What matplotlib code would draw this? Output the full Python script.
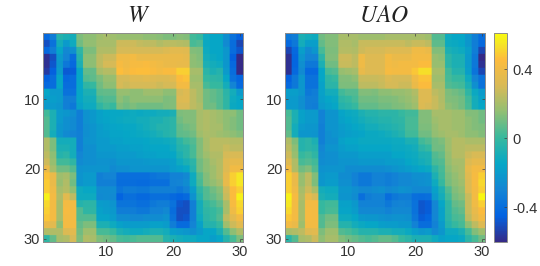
import numpy as np
import matplotlib
matplotlib.use("Agg")
import matplotlib.pyplot as plt
from matplotlib.colors import LinearSegmentedColormap

W_ROWS = [
[-.42,-.33,-.05,-.08,-.1,.12,.15,.15,.18,.2,.18,.17,.17,.17,.17,.15,.15,.14,.12,.12,.14,.13,.02,0,-.12,-.15,-.15,-.25,-.38,-.45],
[-.5,-.38,-.1,-.2,-.12,.1,.16,.16,.2,.2,.2,.28,.28,.28,.26,.25,.25,.22,.24,.24,.23,.22,.03,.05,-.13,-.15,-.15,-.27,-.4,-.52],
[-.42,-.33,-.15,-.28,-.25,-.02,.12,.12,.22,.22,.22,.3,.3,.3,.3,.3,.3,.3,.32,.35,.35,.34,.13,.12,-.12,-.15,-.15,-.22,-.4,-.48],
[-.58,-.5,-.2,-.3,-.4,-.05,.15,.15,.25,.28,.28,.4,.4,.42,.38,.38,.38,.38,.38,.38,.38,.36,.15,.13,-.1,-.13,-.15,-.22,-.45,-.6],
[-.58,-.48,-.22,-.35,-.42,-.08,.15,.15,.25,.3,.3,.43,.4,.43,.43,.44,.42,.4,.38,.38,.37,.37,.15,.14,-.08,-.1,-.12,-.22,-.42,-.6],
[-.55,-.45,-.2,-.47,-.46,-.15,.08,.08,.2,.23,.23,.46,.42,.45,.46,.46,.44,.42,.44,.44,.5,.5,.2,.2,-.03,-.08,-.05,-.2,-.4,-.6],
[-.45,-.4,-.15,-.42,-.4,-.15,.05,.07,.12,.17,.17,.3,.3,.33,.33,.35,.33,.32,.32,.35,.45,.47,.18,.18,0,-.02,-.03,-.15,-.38,-.43],
[-.42,-.4,-.15,-.4,-.4,-.15,-.02,0,.1,.15,.15,.3,.28,.3,.3,.3,.3,.28,.3,.3,.42,.42,.2,.2,.03,0,0,-.1,-.3,-.42],
[-.15,-.2,-.2,-.38,-.38,-.15,-.08,-.08,.07,.08,.08,.17,.17,.15,.15,.18,.18,.18,.15,.15,.3,.33,.25,.2,.1,.08,.05,-.03,-.1,-.2],
[-.18,-.18,-.2,-.32,-.32,-.15,-.1,-.1,.03,.05,.05,.15,.12,.15,.15,.15,.15,.15,.12,.13,.32,.33,.25,.2,.1,.08,.05,-.02,-.12,-.15],
[-.2,-.2,-.22,-.32,-.35,-.17,-.12,-.12,-.02,.02,0,.12,.1,.12,.1,.1,.1,.1,.12,.13,.3,.3,.25,.22,.1,.1,.05,-.02,-.13,-.15],
[.02,-.08,-.2,-.22,-.25,-.33,-.24,-.21,-.17,-.15,-.14,-.14,-.13,-.12,-.13,-.12,-.12,-.1,-.1,-.08,.12,.13,.13,.2,.22,.2,.18,.15,.15,.1],
[.05,-.08,-.2,-.25,-.27,-.33,-.24,-.21,-.17,-.16,-.14,-.13,-.12,-.12,-.1,-.1,-.08,-.08,-.05,-.03,.1,.13,.13,.2,.22,.2,.18,.15,.13,.1],
[.05,-.08,-.22,-.25,-.27,-.33,-.25,-.23,-.19,-.17,-.16,-.15,-.14,-.14,-.12,-.1,-.08,-.05,-.05,-.03,.08,.1,.12,.2,.22,.2,.2,.15,.13,.1],
[.05,-.1,-.22,-.27,-.3,-.32,-.25,-.23,-.19,-.18,-.16,-.16,-.15,-.14,-.13,-.12,-.1,-.08,-.05,-.03,.07,.08,.1,.18,.21,.2,.18,.17,.15,.13],
[.22,.12,-.1,-.1,-.1,-.32,-.24,-.23,-.2,-.2,-.17,-.17,-.16,-.16,-.16,-.15,-.13,-.13,-.12,-.1,-.03,.02,.05,.13,.2,.24,.24,.24,.23,.23],
[.22,.12,-.08,-.08,-.1,-.32,-.25,-.25,-.2,-.2,-.2,-.18,-.18,-.17,-.17,-.16,-.15,-.15,-.15,-.12,-.05,-.03,.03,.13,.2,.24,.24,.27,.25,.25],
[.25,.15,-.05,-.03,-.1,-.29,-.25,-.25,-.22,-.22,-.22,-.2,-.2,-.2,-.18,-.17,-.17,-.16,-.16,-.15,-.08,-.03,.03,.13,.18,.22,.22,.3,.31,.31],
[.28,.17,.02,.02,-.02,-.27,-.25,-.25,-.24,-.24,-.25,-.22,-.22,-.22,-.22,-.21,-.2,-.2,-.2,-.18,-.12,-.08,-.03,.1,.15,.2,.23,.33,.36,.36],
[.38,.2,.1,.1,.05,-.24,-.23,-.23,-.23,-.23,-.27,-.25,-.25,-.23,-.23,-.23,-.23,-.23,-.23,-.19,-.17,-.14,-.05,.1,.15,.18,.23,.33,.41,.41],
[.47,.38,.18,.2,.12,-.23,-.2,-.2,-.32,-.3,-.3,-.39,-.39,-.39,-.39,-.39,-.37,-.35,-.35,-.31,-.31,-.28,-.12,.05,.13,.18,.23,.36,.5,.55],
[.49,.38,.17,.22,.1,-.23,-.2,-.2,-.32,-.32,-.32,-.4,-.4,-.4,-.41,-.41,-.39,-.39,-.39,-.31,-.3,-.26,-.12,.03,.13,.16,.2,.37,.5,.55],
[.49,.4,.2,.23,.15,-.12,-.14,-.14,-.26,-.26,-.26,-.37,-.34,-.34,-.35,-.35,-.32,-.32,-.32,-.32,-.35,-.31,-.19,-.02,.05,.1,.14,.29,.45,.5],
[.58,.42,.22,.35,.25,-.12,-.12,-.12,-.27,-.26,-.27,-.44,-.39,-.39,-.42,-.42,-.39,-.39,-.39,-.42,-.44,-.42,-.24,-.05,.05,.08,.12,.27,.45,.58],
[.52,.42,.2,.42,.42,-.05,-.03,-.03,-.19,-.2,-.23,-.37,-.37,-.37,-.39,-.39,-.35,-.33,-.33,-.38,-.48,-.5,-.32,-.1,0,.03,.08,.2,.43,.52],
[.5,.42,.2,.43,.42,.05,-.02,-.02,-.17,-.19,-.21,-.33,-.33,-.33,-.35,-.35,-.31,-.31,-.28,-.4,-.5,-.5,-.32,-.1,-.02,0,.03,.2,.4,.5],
[.48,.42,.2,.42,.42,.05,.05,.05,-.16,-.16,-.19,-.26,-.26,-.28,-.28,-.26,-.26,-.26,-.24,-.38,-.5,-.48,-.32,-.12,-.03,0,.05,.25,.35,.42],
[.38,.35,.15,.42,.42,.08,.12,.12,-.08,-.08,-.12,-.17,-.19,-.19,-.19,-.19,-.17,-.17,-.19,-.33,-.41,-.41,-.3,-.17,-.05,-.05,0,.18,.28,.35],
[.22,.22,.22,.32,.35,.1,.18,.18,.03,.03,0,-.08,-.1,-.12,-.12,-.1,-.08,-.08,-.1,-.18,-.2,-.22,-.25,-.2,-.15,-.15,-.08,.05,.15,.22],
[-.02,.08,.2,.22,.3,.12,.22,.2,.12,.1,.08,.03,.02,.03,.05,.05,.05,.05,-.05,-.08,-.1,-.12,-.12,-.15,-.15,-.18,-.15,-.05,.03,.12],
]

UAO_ROWS = [
[-.35,-.33,-.08,-.1,-.12,.1,.13,.13,.2,.2,.2,.18,.18,.18,.18,.2,.2,.2,.2,.2,.2,.18,.05,.05,-.12,-.15,-.15,-.22,-.32,-.4],
[-.42,-.35,-.1,-.18,-.18,.08,.13,.13,.22,.22,.2,.27,.27,.27,.27,.27,.27,.27,.25,.27,.27,.25,.07,.07,-.12,-.13,-.15,-.22,-.33,-.42],
[-.52,-.42,-.18,-.27,-.22,.03,.12,.12,.23,.23,.22,.28,.3,.3,.3,.33,.33,.33,.33,.4,.4,.38,.13,.13,-.08,-.1,-.12,-.18,-.33,-.52],
[-.58,-.43,-.22,-.3,-.3,-.03,.13,.13,.28,.28,.25,.4,.33,.33,.33,.42,.38,.38,.38,.42,.42,.42,.17,.15,-.03,-.08,-.08,-.2,-.35,-.6],
[-.58,-.43,-.25,-.35,-.35,-.08,.1,.1,.27,.27,.25,.4,.33,.33,.33,.42,.4,.42,.42,.42,.45,.45,.17,.17,-.03,-.08,-.08,-.2,-.35,-.58],
[-.58,-.42,-.27,-.42,-.42,-.15,.03,.05,.17,.18,.2,.37,.33,.33,.33,.43,.42,.42,.42,.48,.53,.53,.2,.2,.02,-.05,-.05,-.18,-.37,-.52],
[-.45,-.35,-.22,-.38,-.38,-.15,-.02,0,.13,.13,.15,.27,.27,.27,.28,.32,.3,.3,.3,.4,.47,.47,.18,.18,.03,0,0,-.12,-.3,-.38],
[-.42,-.35,-.22,-.38,-.38,-.17,-.03,-.03,.12,.12,.12,.25,.25,.25,.27,.3,.3,.28,.28,.38,.45,.45,.2,.2,.05,.03,.02,-.08,-.25,-.38],
[-.18,-.18,-.22,-.35,-.33,-.17,-.1,-.1,.02,.05,.05,.13,.13,.12,.15,.15,.17,.17,.18,.22,.33,.33,.25,.22,.12,.1,.08,-.02,-.13,-.2],
[-.2,-.2,-.25,-.32,-.32,-.18,-.15,-.13,-.02,0,.03,.1,.1,.1,.12,.12,.13,.15,.17,.2,.33,.33,.27,.22,.13,.12,.1,.02,-.1,-.17],
[-.2,-.2,-.25,-.32,-.33,-.2,-.17,-.15,-.05,-.03,0,.08,.08,.08,.1,.1,.12,.13,.15,.18,.32,.3,.27,.23,.15,.13,.1,.03,-.1,-.15],
[.03,-.08,-.17,-.2,-.2,-.31,-.23,-.23,-.16,-.13,-.12,-.08,-.05,-.05,-.03,-.03,-.03,0,.02,.02,.13,.13,.2,.2,.2,.18,.18,.13,.13,.1],
[.05,-.08,-.17,-.2,-.2,-.31,-.23,-.23,-.17,-.15,-.13,-.1,-.08,-.07,-.05,-.05,-.03,-.02,.03,.03,.13,.13,.18,.2,.2,.18,.18,.15,.13,.1],
[.05,-.1,-.2,-.22,-.22,-.32,-.23,-.23,-.19,-.17,-.15,-.13,-.1,-.1,-.08,-.07,-.05,-.03,.03,.03,.12,.12,.17,.2,.2,.18,.18,.15,.13,.12],
[.08,-.1,-.22,-.22,-.23,-.32,-.25,-.23,-.2,-.18,-.17,-.16,-.13,-.13,-.12,-.1,-.08,-.05,.02,.02,.1,.1,.16,.18,.2,.2,.18,.15,.15,.13],
[.22,.12,-.05,-.03,-.08,-.32,-.25,-.25,-.17,-.15,-.15,-.13,-.13,-.13,-.13,-.13,-.12,-.12,-.08,-.08,.02,.05,.1,.12,.18,.23,.23,.21,.21,.21],
[.25,.15,-.05,-.03,-.05,-.29,-.23,-.23,-.19,-.17,-.17,-.15,-.15,-.15,-.15,-.15,-.13,-.13,-.12,-.1,-.03,0,.1,.1,.18,.23,.23,.25,.25,.25],
[.28,.17,0,.02,-.02,-.27,-.25,-.25,-.21,-.21,-.21,-.18,-.18,-.18,-.18,-.18,-.15,-.15,-.13,-.12,-.08,-.07,.05,.08,.17,.23,.23,.28,.31,.31],
[.33,.22,.03,.05,.02,-.26,-.25,-.25,-.23,-.23,-.23,-.21,-.21,-.21,-.21,-.19,-.19,-.18,-.15,-.13,-.1,-.08,.03,.05,.16,.2,.2,.32,.36,.36],
[.42,.22,.1,.13,.05,-.24,-.23,-.23,-.23,-.26,-.26,-.26,-.26,-.26,-.26,-.25,-.23,-.21,-.19,-.17,-.15,-.13,-.03,.03,.14,.18,.2,.36,.42,.42],
[.5,.38,.17,.25,.13,-.22,-.2,-.2,-.26,-.26,-.31,-.35,-.35,-.31,-.31,-.33,-.31,-.28,-.28,-.25,-.25,-.24,-.08,.02,.12,.16,.2,.34,.43,.5],
[.5,.38,.17,.25,.12,-.22,-.19,-.19,-.25,-.25,-.31,-.35,-.35,-.31,-.31,-.33,-.31,-.28,-.28,-.26,-.25,-.24,-.12,0,.11,.15,.18,.32,.43,.52],
[.5,.4,.2,.28,.2,-.1,-.12,-.12,-.22,-.22,-.25,-.28,-.28,-.26,-.25,-.28,-.26,-.24,-.25,-.28,-.28,-.28,-.17,-.08,.05,.13,.16,.32,.42,.5],
[.58,.43,.22,.37,.3,-.08,-.1,-.1,-.23,-.23,-.26,-.39,-.33,-.31,-.31,-.4,-.35,-.33,-.33,-.39,-.4,-.39,-.2,-.1,.02,.11,.14,.27,.42,.6],
[.55,.42,.2,.42,.42,0,.02,.02,-.17,-.17,-.21,-.31,-.31,-.31,-.31,-.35,-.31,-.3,-.31,-.38,-.48,-.46,-.29,-.15,-.02,.08,.1,.27,.4,.5],
[.52,.42,.2,.43,.42,0,.03,.03,-.16,-.16,-.19,-.28,-.28,-.28,-.28,-.31,-.28,-.28,-.28,-.38,-.48,-.46,-.29,-.17,-.02,.05,.08,.27,.37,.45],
[.48,.42,.2,.43,.42,.05,.1,.1,-.12,-.12,-.15,-.21,-.22,-.22,-.24,-.25,-.24,-.24,-.25,-.36,-.46,-.43,-.29,-.17,-.03,.03,.05,.25,.35,.42],
[.42,.38,.18,.42,.42,.05,.12,.12,-.05,-.05,-.1,-.13,-.15,-.15,-.18,-.19,-.19,-.21,-.21,-.31,-.4,-.4,-.31,-.2,-.05,0,.03,.15,.25,.33],
[.2,.22,.25,.33,.35,.12,.18,.18,.05,.03,0,-.05,-.05,-.05,-.08,-.08,-.1,-.1,-.13,-.18,-.22,-.2,-.27,-.22,-.12,-.12,-.08,.03,.13,.18],
[-.03,.05,.2,.22,.28,.15,.2,.2,.13,.1,.08,.05,.03,.05,.08,.08,.05,0,-.03,-.08,-.08,-.08,-.12,-.17,-.15,-.15,-.13,-.03,.03,.1],
]

TICKS = [10, 20, 30]
CBAR_TICKS = [-0.4, 0, 0.4]
CBAR_LABELS = ["-0.4", "0", "0.4"]
VMIN, VMAX = -0.6, 0.61

parula = LinearSegmentedColormap.from_list("parula", [
    (0.0, "#352a87"), (0.125, "#0363e1"), (0.25, "#1485d4"),
    (0.375, "#06a7c6"), (0.5, "#38b99e"), (0.625, "#92bf73"),
    (0.75, "#d9ba56"), (0.875, "#fdbc3d"), (0.95, "#f5e626"),
    (1.0, "#f9fb0e")])

plt.rcParams["font.family"] = ["Liberation Sans", "DejaVu Sans"]
plt.rcParams["mathtext.fontset"] = "stix"

FW, FH = 540, 266
fig = plt.figure(figsize=(FW / 100, FH / 100), dpi=100)

def px_axes(x0, y0, x1, y1):
    return fig.add_axes([x0 / FW, 1 - y1 / FH, (x1 - x0) / FW, (y1 - y0) / FH])

GREY = "#333333"
SPINE = "#8c8c8c"
SUB = 6

def style(ax):
    for s in ax.spines.values():
        s.set_color(SPINE)
        s.set_linewidth(0.7)
    ax.tick_params(direction="in", length=2, width=0.5, color="#404040",
                   labelsize=10.5, labelcolor=GREY, pad=2,
                   top=True, right=True)

for rows, title, box, tx in [(W_ROWS, "$W$", (43, 33, 243, 242), 0.48),
                             (UAO_ROWS, "$UAO$", (285, 33, 485, 242), 0.495)]:
    ax = px_axes(*box)
    cells = np.repeat(np.repeat(np.array(rows), SUB, axis=0), SUB, axis=1)
    im = ax.imshow(cells, cmap=parula, vmin=VMIN, vmax=VMAX,
                   interpolation="bilinear", interpolation_stage="rgba",
                   aspect="auto", extent=(0.5, 30.5, 30.5, 0.5))
    ax.set_xticks(TICKS)
    ax.set_yticks(TICKS)
    style(ax)
    ax.set_title(title, fontsize=17, color="#222222", pad=8, x=tx)

cax = px_axes(494, 33, 507, 242)
cb = fig.colorbar(im, cax=cax)
cb.set_ticks(CBAR_TICKS)
cb.set_ticklabels(CBAR_LABELS)
cb.outline.set_edgecolor(SPINE)
cb.outline.set_linewidth(0.7)
cax.tick_params(direction="in", length=2, width=0.5, color="#404040",
                labelsize=10.5, labelcolor=GREY, pad=4)

fig.savefig("out.png", dpi=100)
